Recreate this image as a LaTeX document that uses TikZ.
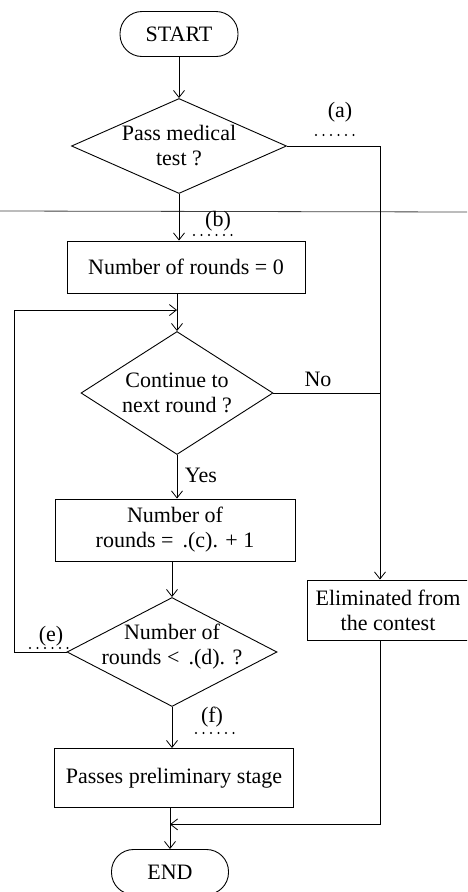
\documentclass[tikz,border=0pt]{standalone}
\usepackage{fontspec}
\setmainfont{Liberation Serif}
\usetikzlibrary{arrows.meta,shapes.geometric,calc}
\tikzset{
  flow/.style={draw,line width=0.9pt,align=center,inner sep=0pt},
  box/.style={flow,rectangle},
  decision/.style={flow,diamond},
  terminal/.style={flow,rectangle,rounded corners=22pt},
  txt/.style={align=center,inner sep=0pt},
  ar/.style={-{Straight Barb[length=7pt,width=11pt]},line width=0.8pt},
  ln/.style={line width=0.8pt},
  blank/.style={line width=2.4pt,line cap=round,dash pattern=on 0pt off 7.5pt},
}
\begin{document}
\begin{tikzpicture}[x=1pt,y=-1pt,every node/.style={font=\fontsize{22}{25}\selectfont}]
  \useasboundingbox (0,0) rectangle (467,892);
  \clip (0,0) rectangle (467,892);
  % stray rule of the scan
  \draw[black!75,line width=0.8pt] (0,211) -- (467,212);

  % main column
  \node[terminal,minimum width=118,minimum height=45] (start) at (179,34) {START};
  \node[decision,minimum width=215,minimum height=95] (medical) at (179,146) {};
  \node[txt] at (medical) {Pass medical\\test ?};
  \node[box,minimum width=238,minimum height=52] (zero) at (186,267) {Number of rounds = 0};
  \node[decision,minimum width=192,minimum height=123] (cont) at (177,393) {};
  \node[txt] at (cont) {Continue to\\next round ?};
  \node[box,minimum width=240,minimum height=62] (add) at (175,530) {Number of\\rounds = \,.(c). + 1};
  \node[decision,minimum width=210,minimum height=109] (rounds) at (172,652) {};
  \node[txt] at ($(rounds)+(0,-5)$) {Number of\\rounds < \,.(d). ?};
  \node[box,minimum width=239,minimum height=59] (pass) at (174,778) {Passes preliminary stage};
  \node[terminal,minimum width=117,minimum height=45] (end) at (170,872) {END};
  % side column
  \node[box,minimum width=162,minimum height=60] (elim) at (388,610) {Eliminated from\\the contest};

  \coordinate (jr) at (380,0);
  \coordinate (jl) at (14,0);
  \coordinate (loop) at ($(cont.north)+(0,-21)$);
  \coordinate (merge) at ($(end.north |- pass.south)!0.4!(end.north)$);

  % connectors
  \draw[ar] (start) -- (medical);
  \draw[ar] (medical.south) -- (medical.south |- zero.north);
  \draw[ar] (medical.east) -| (jr |- elim.north);
  \draw[ar] (cont.north |- zero.south) -- (cont.north);
  \draw[ln] (cont.east) -- (cont.east -| jr);
  \draw[ar] (cont.south) -- (cont.south |- add.north);
  \draw[ar] (rounds.north |- add.south) -- (rounds.north);
  \draw[ar] (rounds.west) -- (rounds.west -| jl) |- (loop);
  \draw[ar] (rounds.south) -- (rounds.south |- pass.north);
  \draw[ar] (end.north |- pass.south) -- (end.north);
  \draw[ar] (jr |- elim.south) |- (merge);

  % labels and blanks
  \node[txt] at (318,379) {No};
  \node[txt] at (201,475) {Yes};
  \node[txt] (la) at (340,112) {(a)};
  \node[txt] (lb) at (218,221) {(b)};
  \node[txt] (le) at (51,636) {(e)};
  \node[txt] (lf) at (212,717) {(f)};
  \draw[blank] ($(la)+(-24,23)$) -- ++(38,0);
  \draw[blank] ($(lb)+(-24,14)$) -- ++(38,0);
  \draw[blank] ($(le)+(-21,12)$) -- ++(38,0);
  \draw[blank] ($(lf)+(-16,16)$) -- ++(45,0);
\end{tikzpicture}
\end{document}
